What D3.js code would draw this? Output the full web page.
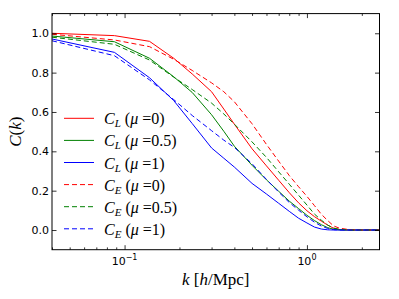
<!DOCTYPE html>
<html>
<head>
<meta charset="UTF-8">
<title>C(k)</title>
<script src="https://cdn.jsdelivr.net/npm/d3@7"></script>
<style>
  body { margin: 0; background: #fff; }
</style>
</head>
<body>
<div id="chart"></div>
<script>
// k [h/Mpc] sample points
const kValues = [0.04, 0.088, 0.137, 0.186, 0.235, 0.3, 0.35, 0.4, 0.5, 0.6, 0.7, 0.8, 0.9, 1.0, 1.1, 1.2, 1.3, 1.4, 1.5, 1.7, 2.0, 2.5];

// C_L curves
const cL0  = [1.0, 0.988, 0.959, 0.873, 0.793, 0.703, 0.615, 0.538, 0.413, 0.326, 0.253, 0.19, 0.138, 0.098, 0.068, 0.045, 0.025, 0.009, 0.003, 0, 0, 0];
const cL05 = [0.986, 0.957, 0.873, 0.779, 0.699, 0.586, 0.502, 0.426, 0.329, 0.255, 0.197, 0.147, 0.109, 0.075, 0.048, 0.027, 0.012, 0.004, 0.001, 0, 0, 0];
const cL1  = [0.971, 0.903, 0.774, 0.658, 0.541, 0.417, 0.365, 0.32, 0.237, 0.183, 0.136, 0.095, 0.06, 0.036, 0.015, 0.005, 0.001, 0, 0, 0, 0, 0];

// C_E curves
const cE0  = [0.995, 0.966, 0.932, 0.868, 0.811, 0.748, 0.703, 0.652, 0.54, 0.435, 0.35, 0.277, 0.22, 0.171, 0.124, 0.08, 0.048, 0.021, 0.01, 0.002, 0, 0];
const cE05 = [0.98, 0.944, 0.864, 0.777, 0.714, 0.645, 0.59, 0.538, 0.448, 0.369, 0.296, 0.233, 0.177, 0.127, 0.081, 0.05, 0.025, 0.01, 0.004, 0, 0, 0];
const cE1  = [0.962, 0.886, 0.763, 0.663, 0.582, 0.505, 0.457, 0.42, 0.337, 0.257, 0.193, 0.14, 0.101, 0.067, 0.04, 0.02, 0.008, 0.002, 0, 0, 0, 0];

const seriesNames = ["L", "L", "L", "E", "E", "E"];
const seriesMu = ["0", "0.5", "1", "0", "0.5", "1"];
const seriesData = [cL0, cL05, cL1, cE0, cE05, cE1];
const seriesColors = ["#ff0000", "#008000", "#0000ff", "#ff0000", "#008000", "#0000ff"];

const yTicks = [0.0, 0.2, 0.4, 0.6, 0.8, 1.0];
const xMajor = [0.1, 1];
const xLabels = ["-1", "0"];

const width = 399, height = 299;
const marginLeft = 52, marginRight = 19.5, marginTop = 13.6, marginBottom = 49.3;
const iw = width - marginLeft - marginRight;
const ih = height - marginTop - marginBottom;

const x = d3.scaleLog().domain([0.04, 2.5]).range([0, iw]);
const y = d3.scaleLinear().domain([-0.1, 1.1]).range([ih, 0]);

const svg = d3.select("#chart").append("svg")
  .attr("width", width)
  .attr("height", height);

const g = svg.append("g")
  .attr("transform", "translate(" + marginLeft + "," + marginTop + ")");

g.append("clipPath").attr("id", "clip")
  .append("rect").attr("width", iw).attr("height", ih);

// lines
const line = d3.line()
  .x((d, i) => x(kValues[i]))
  .y(d => y(d));

const plot = g.append("g").attr("clip-path", "url(#clip)");
seriesData.forEach(function(s, i) {
  plot.append("path")
    .attr("d", line(s))
    .attr("fill", "none")
    .attr("stroke", seriesColors[i])
    .attr("stroke-width", 1)
    .attr("stroke-dasharray", i >= 3 ? "5,3" : null);
});

// ticks (matplotlib classic: inside, on all four sides)
const minor = x.ticks().filter(t => xMajor.indexOf(t) < 0 && t >= 0.04 && t <= 2.5);

function tickStyle(sel) {
  sel.select(".domain").remove();
  sel.selectAll(".tick line").attr("stroke", "#000").attr("stroke-width", 0.8);
}

g.append("g").attr("transform", "translate(0," + ih + ")")
  .call(d3.axisBottom(x).tickValues(xMajor).tickSize(-4.5).tickFormat(""))
  .call(tickStyle);
g.append("g").attr("transform", "translate(0," + ih + ")")
  .call(d3.axisBottom(x).tickValues(minor).tickSize(-2.3).tickFormat(""))
  .call(tickStyle);
g.append("g")
  .call(d3.axisTop(x).tickValues(xMajor).tickSize(-4.5).tickFormat(""))
  .call(tickStyle);
g.append("g")
  .call(d3.axisTop(x).tickValues(minor).tickSize(-2.3).tickFormat(""))
  .call(tickStyle);
g.append("g")
  .call(d3.axisLeft(y).tickValues(yTicks).tickSize(-4.5).tickFormat(""))
  .call(tickStyle);
g.append("g").attr("transform", "translate(" + iw + ",0)")
  .call(d3.axisRight(y).tickValues(yTicks).tickSize(-4.5).tickFormat(""))
  .call(tickStyle);

// tick labels
g.selectAll(".ylab").data(yTicks).join("text")
  .attr("class", "ylab")
  .attr("x", -3)
  .attr("y", d => y(d) + 4)
  .attr("text-anchor", "end")
  .attr("font-family", "DejaVu Sans")
  .attr("font-size", "11px")
  .text(d => d.toFixed(1));

xMajor.forEach(function(t, i) {
  const tx = g.append("text")
    .attr("x", x(t))
    .attr("y", ih + 15)
    .attr("text-anchor", "middle")
    .attr("font-family", "DejaVu Sans")
    .attr("font-size", "11px");
  tx.append("tspan").text("10");
  tx.append("tspan").attr("dy", -4.5).attr("font-size", "8px").text(xLabels[i] === "-1" ? "\u22121" : xLabels[i]);
});

// frame
g.append("rect")
  .attr("width", iw).attr("height", ih)
  .attr("fill", "none").attr("stroke", "#000").attr("stroke-width", 1);

// axis labels
const serif = "Liberation Serif";
const yl = svg.append("text")
  .attr("transform", "translate(21," + (marginTop + ih / 2) + ") rotate(-90)")
  .attr("text-anchor", "middle")
  .attr("font-family", serif)
  .attr("font-size", "17px");
yl.append("tspan").attr("font-style", "italic").text("C");
yl.append("tspan").text("(");
yl.append("tspan").attr("font-style", "italic").text("k");
yl.append("tspan").text(")");

const xl = svg.append("text")
  .attr("x", marginLeft + iw / 2)
  .attr("y", 285)
  .attr("text-anchor", "middle")
  .attr("font-family", serif)
  .attr("font-size", "17px");
xl.append("tspan").attr("font-style", "italic").text("k");
xl.append("tspan").text(" [");
xl.append("tspan").attr("font-style", "italic").text("h");
xl.append("tspan").text("/Mpc]");

// legend
const legend = svg.append("g");
seriesData.forEach(function(s, i) {
  const ly = 118.3 + i * 22.1;
  legend.append("line")
    .attr("x1", 64).attr("x2", 94)
    .attr("y1", ly).attr("y2", ly)
    .attr("stroke", seriesColors[i])
    .attr("stroke-width", 1)
    .attr("stroke-dasharray", i >= 3 ? "5,3" : null);
  const t = legend.append("text")
    .attr("x", 104)
    .attr("y", ly + 6)
    .attr("font-family", serif)
    .attr("font-size", "16px");
  t.append("tspan").attr("font-style", "italic").text("C");
  t.append("tspan").attr("font-style", "italic").attr("font-size", "11px").attr("dy", 3).text(seriesNames[i]);
  t.append("tspan").attr("dy", -3).text(" (");
  t.append("tspan").attr("font-style", "italic").text("\u03bc");
  t.append("tspan").text(" =" + seriesMu[i] + ")");
});
</script>
</body>
</html>
